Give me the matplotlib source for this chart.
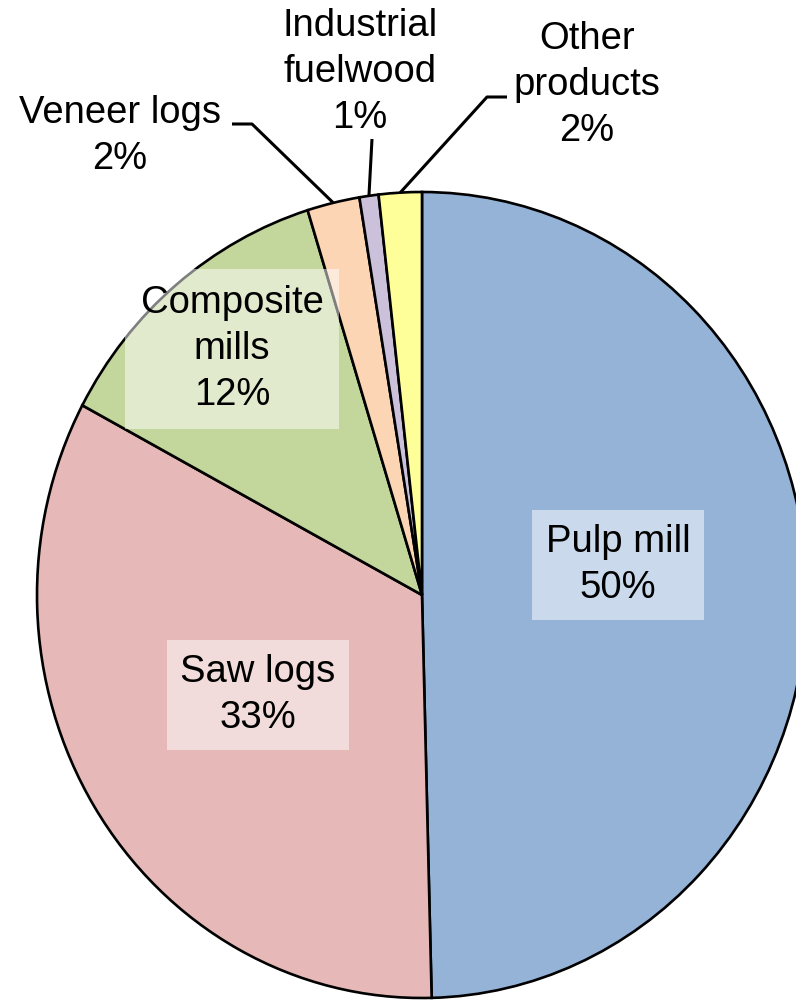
import matplotlib
matplotlib.use('Agg')
import matplotlib.pyplot as plt
import numpy as np

plt.rcParams['font.family'] = ['Liberation Sans', 'DejaVu Sans']

# Datos (porcentaje del volumen)
categorias = ['Pulp mill', 'Saw logs', 'Composite\nmills', 'Veneer logs',
              'Industrial\nfuelwood', 'Other\nproducts']
valores = [49.6, 33.2, 12.4, 2.2, 0.8, 1.8]
colores = ['#95B3D7', '#E6B9B8', '#C3D69B', '#FCD5B5', '#CCC1DA', '#FFFF99']

# geometria en pixeles de la imagen (centro y radios del pie)
W, H = 796, 1000
cx, cy, rx, ry = 422, 595, 385, 403


def px(x, y):
    """pixel -> coordenadas de datos del pie (radio 1)"""
    return (x - cx) / rx, (cy - y) / ry


fig = plt.figure(figsize=(W / 100, H / 100), dpi=100)
ax = fig.add_axes([0, 0, 1, 1])

wedges, _ = ax.pie(valores, colors=colores, startangle=90, counterclock=False,
                   radius=1.0,
                   wedgeprops=dict(edgecolor='black', linewidth=1.9))

ax.set_aspect('auto')
x0, y0 = px(0, H)
x1, y1 = px(W, 0)
ax.set_xlim(x0, x1)
ax.set_ylim(y0, y1)
ax.axis('off')

fs = 27.5
etiquetas = [f'{c}\n{round(v):.0f}%' for c, v in zip(categorias, valores)]

# etiquetas dentro de las porciones grandes
dentro = {0: (618, 565, 0.36), 1: (258, 695, 0.36), 2: (232, 349, 0.42)}
for i, (x, y, pad) in dentro.items():
    tx, ty = px(x, y)
    ax.text(tx, ty, etiquetas[i], ha='center', va='center', fontsize=fs,
            linespacing=1.36,
            bbox=dict(boxstyle=f'square,pad={pad}', facecolor='white',
                      edgecolor='none', alpha=0.5))

# etiquetas fuera con lineas guia
fuera = {3: (120, 136), 4: (360, 72), 5: (587, 85)}
for i, (x, y) in fuera.items():
    tx, ty = px(x, y)
    ax.text(tx, ty, etiquetas[i], ha='center', va='center', fontsize=fs,
            linespacing=1.36)

# punto medio de cada porcion pequena en el borde
def borde(i):
    w = wedges[i]
    ang = np.deg2rad((w.theta1 + w.theta2) / 2)
    return np.cos(ang), np.sin(ang)

guias = {3: [(232, 124), (252, 124)], 4: [(372, 139)], 5: [(507, 97), (487, 97)]}
for i, pts in guias.items():
    xs = [px(*p)[0] for p in pts]
    ys = [px(*p)[1] for p in pts]
    bx, by = borde(i)
    xs.append(bx)
    ys.append(by)
    ax.plot(xs, ys, color='black', linewidth=2.2, solid_capstyle='butt')

fig.savefig('out.png', dpi=100)
